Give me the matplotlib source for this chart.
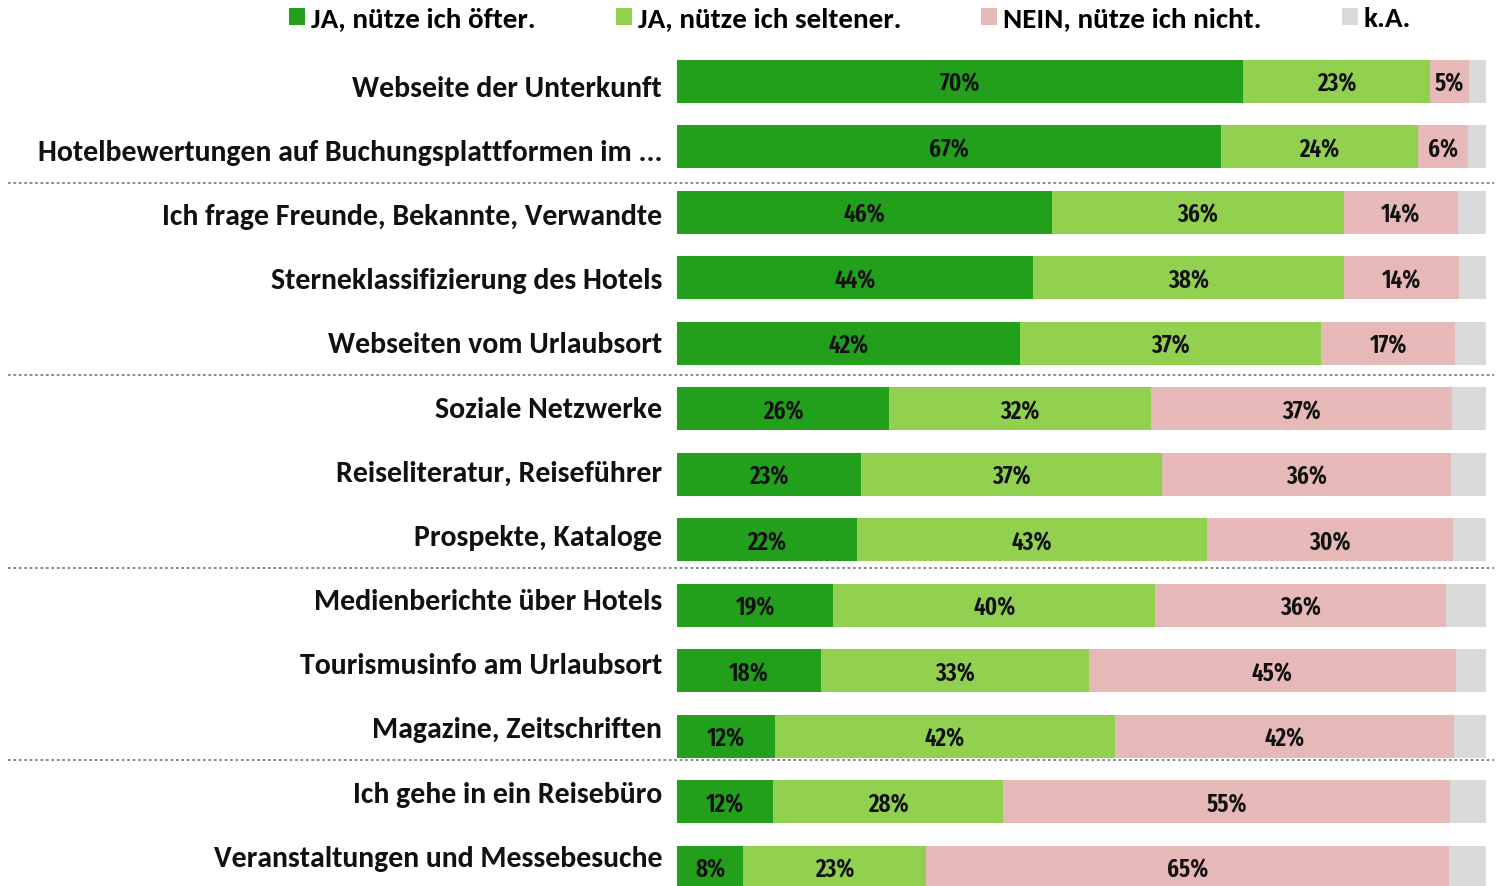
import numpy as np
import matplotlib.pyplot as plt
from matplotlib.patches import Patch

# Anteile in Prozent, k.A. = Rest bis 100
kategorien = ["Webseite der Unterkunft",
              "Hotelbewertungen auf Buchungsplattformen im ...",
              "Ich frage Freunde, Bekannte, Verwandte",
              "Sterneklassifizierung des Hotels",
              "Webseiten vom Urlaubsort",
              "Soziale Netzwerke",
              "Reiseliteratur, Reiseführer",
              "Prospekte, Kataloge",
              "Medienberichte über Hotels",
              "Tourismusinfo am Urlaubsort",
              "Magazine, Zeitschriften",
              "Ich gehe in ein Reisebüro",
              "Veranstaltungen und Messebesuche"]
ja_oft    = [70.0, 67.2, 46.4, 44.0, 42.4, 26.2, 22.7, 22.2, 19.3, 17.8, 12.1, 11.9, 8.2]
ja_selten = [23.1, 24.4, 36.0, 38.4, 37.2, 32.4, 37.3, 43.3, 39.8, 33.1, 42.0, 28.4, 22.6]
nein      = [4.8, 6.2, 14.1, 14.3, 16.6, 37.2, 35.7, 30.4, 36.0, 45.4, 41.9, 55.3, 64.6]
k_a = list(100 - np.array(ja_oft) - np.array(ja_selten) - np.array(nein))
serien = ["JA, nütze ich öfter.", "JA, nütze ich seltener.", "NEIN, nütze ich nicht.", "k.A."]
farben = ["#22a01c", "#92d050", "#e6b8b7", "#d9d9d9"]
trenner = [1.549, 4.485, 7.436, 10.363]

plt.rcParams['font.family'] = ['Carlito', 'DejaVu Sans']

fig = plt.figure(figsize=(14.96, 8.86), dpi=100)
ax = fig.add_axes([677/1496, 0, 809/1496, 1])
y = np.arange(len(kategorien))

links = np.zeros(len(kategorien))
for werte, farbe in zip([ja_oft, ja_selten, nein, k_a], farben):
    ax.barh(y, werte, left=links, height=0.65, color=farbe, edgecolor='none')
    if farbe != farben[3]:
        for i, w in enumerate(werte):
            ax.text(links[i] + w/2, y[i] + 0.16, "%d%%" % round(w), ha='center', va='baseline',
                    fontsize=18, fontweight=600, family=['Fira Sans Extra Condensed', 'DejaVu Sans'],
                    color='#111111')
    links += np.array(werte)

# Beschriftungen stehen im Original etwas enger als die Balken
for i, k in enumerate(kategorien):
    ax.text(-1.85, (15.45 + 64.17 * i) / 65.5, k, ha='right', va='baseline', fontsize=21.5,
            fontweight='bold', color='#111111')

for t in trenner:
    ax.plot([-82.7, 101], [t, t], ls=(0, (1.5, 1.5)), color='#808080', lw=1.3, clip_on=False)

ax.set_xlim(0, 100)
ax.set_ylim(12.286, -1.240)
ax.axis('off')

handles = [Patch(facecolor=f, edgecolor='none') for f in farben]
fig.legend(handles, serien, loc='upper center', bbox_to_anchor=(850/1496, 1.022), ncol=4,
           frameon=False, handlelength=0.55, handleheight=0.55, handletextpad=0.2,
           columnspacing=2.75, prop={'size': 21, 'weight': 'bold'})

fig.savefig("out.png", dpi=100)
